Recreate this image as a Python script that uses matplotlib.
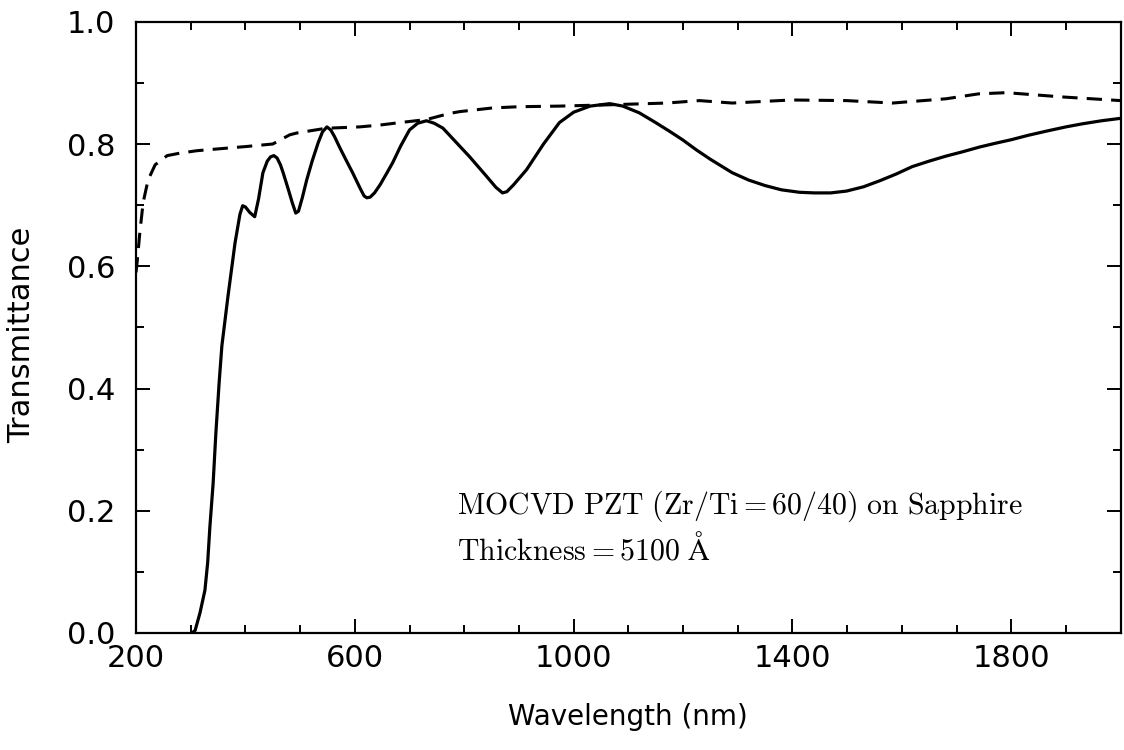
import matplotlib
matplotlib.use("Agg")
import matplotlib.pyplot as plt
from matplotlib.ticker import MultipleLocator, FixedLocator

# PZT film on sapphire: measured transmittance (solid)
film_wl = [302, 308, 317, 326, 331, 335, 341, 346, 352, 357, 368, 381, 390, 395,
           400, 408, 417, 424, 432, 440, 446, 452, 458, 464, 469, 478, 486, 492,
           497, 504, 512, 522, 533, 541, 549, 556, 563, 572, 585, 596, 610, 617,
           622, 628, 636, 646, 657, 669, 684, 700, 715, 731, 745, 761, 785, 810,
           840, 858, 870, 878, 890, 914, 945, 974, 1000, 1030, 1066, 1090, 1120,
           1150, 1175, 1199, 1225, 1250, 1270, 1290, 1320, 1350, 1380, 1413,
           1440, 1470, 1499, 1530, 1560, 1590, 1619, 1650, 1680, 1710, 1742,
           1770, 1800, 1830, 1864, 1900, 1930, 1965, 2000]
film_t = [0.0, 0.004, 0.033, 0.07, 0.115, 0.173, 0.245, 0.327, 0.41, 0.47,
          0.55, 0.638, 0.685, 0.699, 0.697, 0.688, 0.681, 0.71, 0.753, 0.772,
          0.779, 0.781, 0.777, 0.766, 0.753, 0.727, 0.703, 0.687, 0.69, 0.712,
          0.741, 0.772, 0.802, 0.82, 0.828, 0.823, 0.812, 0.795, 0.772, 0.753,
          0.727, 0.715, 0.712, 0.713, 0.72, 0.733, 0.75, 0.769, 0.797, 0.823,
          0.834, 0.838, 0.834, 0.826, 0.803, 0.779, 0.748, 0.729, 0.72, 0.722,
          0.733, 0.758, 0.80, 0.835, 0.852, 0.862, 0.866, 0.862, 0.851, 0.835,
          0.821, 0.807, 0.79, 0.775, 0.764, 0.753, 0.741, 0.732, 0.725, 0.721,
          0.72, 0.72, 0.723, 0.73, 0.74, 0.751, 0.763, 0.772, 0.78, 0.787,
          0.795, 0.801, 0.807, 0.814, 0.821, 0.828, 0.833, 0.838, 0.842]

# Bare sapphire substrate (dashed)
sub_wl = [200, 202, 207, 213, 222, 235, 257, 280, 311, 350, 403, 450, 481, 494,
          542, 554, 609, 646, 682, 731, 773, 792, 852, 900, 974, 1060, 1170,
          1230, 1290, 1376, 1400, 1499, 1583, 1681, 1740, 1791, 1893, 2000]
sub_t = [0.59, 0.606, 0.655, 0.704, 0.741, 0.766, 0.781, 0.785, 0.789, 0.792,
         0.796, 0.800, 0.815, 0.818, 0.825, 0.826, 0.828, 0.831, 0.835, 0.84,
         0.85, 0.853, 0.859, 0.861, 0.862, 0.864, 0.867, 0.871, 0.867, 0.871,
         0.872, 0.871, 0.867, 0.874, 0.882, 0.884, 0.877, 0.871]

x_major = [200, 600, 1000, 1400, 1800]
x_labels = ["200", "600", "1000", "1400", "1800"]
y_major = [0.0, 0.2, 0.4, 0.6, 0.8, 1.0]
y_labels = ["0.0", "0.2", "0.4", "0.6", "0.8", "1.0"]

plt.rcParams["mathtext.fontset"] = "cm"

fig = plt.figure(figsize=(11.24, 7.5), dpi=100)
ax = fig.add_axes([0.121, 0.156, 0.876, 0.815])

ax.plot(film_wl, film_t, color="black", lw=2.3, solid_joinstyle="round")
ax.plot(sub_wl, sub_t, color="black", lw=2.2, dashes=(5, 3))

ax.set_xlim(200, 2000)
ax.set_ylim(0.0, 1.0)
ax.xaxis.set_major_locator(FixedLocator(x_major))
ax.set_xticklabels(x_labels)
ax.xaxis.set_minor_locator(MultipleLocator(100))
ax.yaxis.set_major_locator(FixedLocator(y_major))
ax.set_yticklabels(y_labels)
ax.yaxis.set_minor_locator(MultipleLocator(0.1))

ax.tick_params(which="both", direction="in", top=True, right=True,
               width=1.4, labelsize=22)
ax.tick_params(axis="x", pad=8)
ax.tick_params(axis="y", pad=15)
ax.tick_params(which="major", length=10)
ax.tick_params(which="minor", length=6)
for s in ax.spines.values():
    s.set_linewidth(1.6)

fig.text(628 / 1124, 1 - 717 / 750, "Wavelength (nm)", fontsize=20,
         ha="center", va="center")
fig.text(22 / 1124, 1 - 335 / 750, "Transmittance", fontsize=22,
         rotation=90, ha="center", va="center")

ax.text(0.326, 0.195, r"$\mathrm{MOCVD\ PZT\ (Zr/Ti = 60/40)\ on\ Sapphire}$",
        transform=ax.transAxes, fontsize=21.5, ha="left", va="baseline")
ax.text(0.326, 0.121, r"$\mathrm{Thickness = 5100\ \AA}$",
        transform=ax.transAxes, fontsize=21.5, ha="left", va="baseline")

fig.savefig("out.png", dpi=100, facecolor="white")
